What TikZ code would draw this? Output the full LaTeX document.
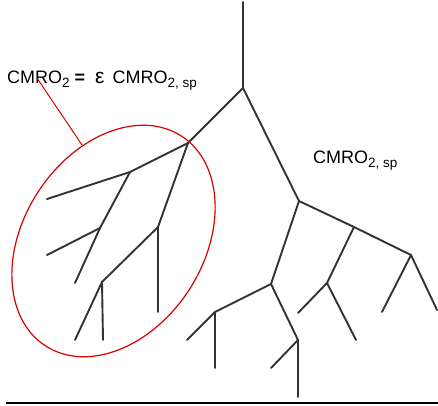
\documentclass[tikz,border=0pt]{standalone}
\usepackage{fontspec}
\setmainfont{Liberation Sans}
\newcommand{\subtxt}[1]{\raisebox{-4pt}{\fontsize{13.5}{13.5}\selectfont #1}}
\tikzset{
  br/.style={draw=black!80, line width=1.9pt, line cap=round},
  ring/.style={draw=red!85!black, line width=1.2pt},
  lead/.style={draw=red!85!black, line width=1pt},
  lbl/.style={font=\fontsize{18}{18}\selectfont, inner sep=0pt, anchor=base west}
}
\begin{document}
\begin{tikzpicture}[x=1pt,y=-1pt]
\useasboundingbox (0,0) rectangle (438,405);
% junctions and ends
\coordinate (top) at (243,2);
\coordinate (A) at (243,88);
\coordinate (B) at (299,201);
\coordinate (C) at (188,143);
\coordinate (D) at (271,284);
\coordinate (E) at (354,227);
\coordinate (F) at (411,255);
\coordinate (F1) at (437,310);
\coordinate (F2) at (382,312);
\coordinate (G) at (327,283);
\coordinate (G1) at (298,313);
\coordinate (G2) at (356,340);
\coordinate (H) at (215,312);
\coordinate (H1) at (187,340);
\coordinate (H2) at (215,368);
\coordinate (I) at (298,340);
\coordinate (I1) at (271,368);
\coordinate (I2) at (298,397);
\coordinate (J) at (130,172);
\coordinate (J1) at (47,199);
\coordinate (M) at (100,228);
\coordinate (M1) at (75,283);
\coordinate (M2) at (47,255);
\coordinate (K) at (158,227);
\coordinate (K1) at (158,312);
\coordinate (L) at (102,282);
\coordinate (L1) at (103,340);
\coordinate (L2) at (75,340);
% tree
\draw[br] (top) -- (A);
\draw[br] (A) -- (B);
\draw[br] (A) -- (C);
\draw[br] (B) -- (D);
\draw[br] (B) -- (E) -- (F);
\draw[br] (F) -- (F1);
\draw[br] (F) -- (F2);
\draw[br] (E) -- (G);
\draw[br] (G) -- (G1);
\draw[br] (G) -- (G2);
\draw[br] (D) -- (H);
\draw[br] (H) -- (H1);
\draw[br] (H) -- (H2);
\draw[br] (D) -- (I);
\draw[br] (I) -- (I1);
\draw[br] (I) -- (I2);
\draw[br] (C) -- (J) -- (J1);
\draw[br] (J) -- (M);
\draw[br] (M) -- (M1);
\draw[br] (M) -- (M2);
\draw[br] (C) -- (K);
\draw[br] (K) -- (K1);
\draw[br] (K) -- (L);
\draw[br] (L) -- (L1);
\draw[br] (L) -- (L2);
% ellipse
\coordinate (E0) at (113.5,241);
\draw[ring, rotate around={57:(E0)}] (E0) ellipse [x radius=125pt, y radius=90pt];
% labels
\node[lbl] (eq) at (7,83) {CMRO\subtxt{2} \textbf{=}\hspace{10pt}{\fontsize{21}{21}\selectfont ε}\hspace{8pt}CMRO\subtxt{2, sp}};
\coordinate (lA) at (37,78);
\coordinate (lB) at (82,145);
\draw[lead] (lA) -- (lB);
\node[lbl] (sp) at (313,163) {CMRO\subtxt{2, sp}};
% ground line
\coordinate (g1) at (6,403);
\coordinate (g2) at (438,403);
\draw[line width=2pt, black] (g1) -- (g2);
\end{tikzpicture}
\end{document}
